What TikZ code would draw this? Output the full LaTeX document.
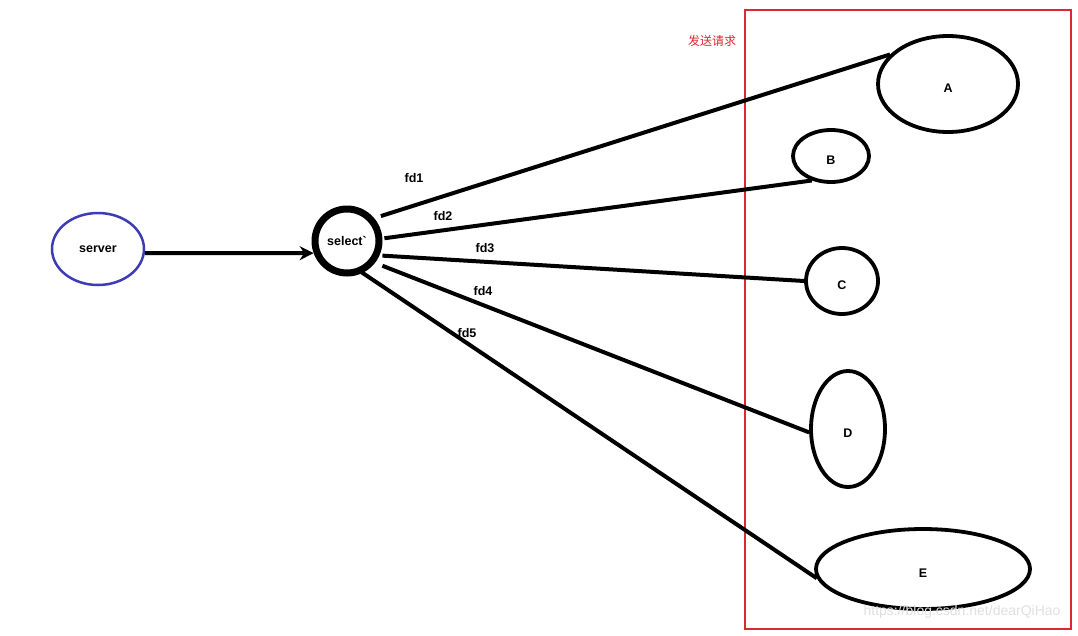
\documentclass[tikz,border=0pt]{standalone}
\usepackage{fontspec}
\setmainfont{Liberation Sans}
\newfontfamily\cjk{Noto Sans CJK SC}
\usetikzlibrary{shapes.geometric,arrows.meta}
\definecolor{srvblue}{HTML}{3C3CB4}
\definecolor{boxred}{HTML}{DC2832}
\begin{document}
\begin{tikzpicture}[x=1pt,y=-1pt,
  lbl/.style={font=\fontsize{12.5}{14}\selectfont\bfseries},
  cli/.style={ellipse,draw=black,line width=3.8pt,inner sep=0pt,text height=17pt,text depth=0pt,font=\fontsize{12.5}{14}\selectfont\bfseries},
  conn/.style={line width=4pt,black}]
\useasboundingbox (0,0) rectangle (1078,635);
\fill[white] (0,0) rectangle (1078,635);
% red frame
\draw[boxred,line width=2.5pt] (745,10) rectangle (1071,629);
\node[text=boxred,font=\cjk\fontsize{12}{14}\selectfont] (req) at (712,41) {发送请求};
% nodes
\node[ellipse,draw=srvblue,line width=2.5pt,minimum width=92pt,minimum height=72pt,inner sep=0pt,lbl] (server) at (98,249) {server};
\node[circle,draw=black,line width=7pt,minimum size=64pt,inner sep=0pt,lbl] (sel) at (347,241) {select\textasciigrave};
\node[cli,minimum width=140pt,minimum height=96pt] (A) at (948,84) {A};
\node[cli,minimum width=76pt,minimum height=52pt] (B) at (831,156) {B};
\node[cli,minimum width=72pt,minimum height=66pt] (C) at (842,281) {C};
\node[cli,minimum width=74pt,minimum height=116pt] (D) at (848,429) {D};
\node[cli,minimum width=214pt,minimum height=80pt] (E) at (923,569) {E};
% labels
\node[lbl] (l1) at (414,178) {fd1};
\node[lbl] (l2) at (443,216) {fd2};
\node[lbl] (l3) at (485,248) {fd3};
\node[lbl] (l4) at (483,291) {fd4};
\node[lbl] (l5) at (467,333) {fd5};
% connectors
\draw[conn,-{Stealth[length=14pt,width=14pt]}] (server.-5) -- (sel.200);
\draw[conn,shorten <=7pt] (sel.40) -- (A.153);
\draw[conn,shorten <=2pt] (sel.4) -- (B.232);
\draw[conn,shorten <=3pt] (sel.-24) -- (C.west);
\draw[conn,shorten <=8pt] (sel.-38) -- (D.185);
\draw[conn,shorten <=-1pt] (sel.-64) -- (E.185);
% watermark
\node[text=black!12,font=\fontsize{14}{16}\selectfont,anchor=east] (wm) at (1064,612) {https://blog.csdn.net/dearQiHao};
\end{tikzpicture}
\end{document}
